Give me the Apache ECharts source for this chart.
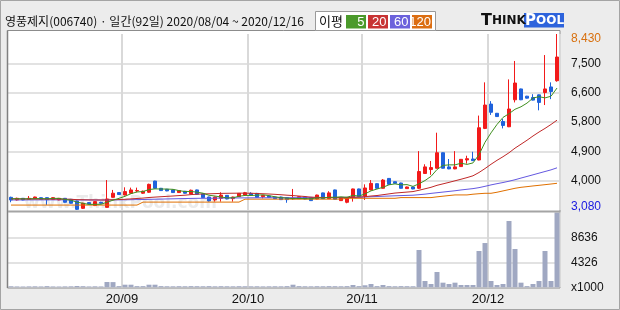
<!DOCTYPE html>
<html><head><meta charset="utf-8">
<script src="https://cdn.jsdelivr.net/npm/echarts@6/dist/echarts.min.js"></script>
<style>html,body{margin:0;padding:0;background:#ececec;}#c{width:620px;height:310px;}</style>
</head><body><div id="c"></div>
<script>
const dates = ['2020/08/04','2020/08/05','2020/08/06','2020/08/07','2020/08/10','2020/08/11','2020/08/12','2020/08/13','2020/08/14','2020/08/18','2020/08/19','2020/08/20','2020/08/21','2020/08/24','2020/08/25','2020/08/26','2020/08/27','2020/08/28','2020/08/31',
'2020/09/01','2020/09/02','2020/09/03','2020/09/04','2020/09/07','2020/09/08','2020/09/09','2020/09/10','2020/09/11','2020/09/14','2020/09/15','2020/09/16','2020/09/17','2020/09/18','2020/09/21','2020/09/22','2020/09/23','2020/09/24','2020/09/25','2020/09/28','2020/09/29',
'2020/10/05','2020/10/06','2020/10/07','2020/10/08','2020/10/12','2020/10/13','2020/10/14','2020/10/15','2020/10/16','2020/10/19','2020/10/20','2020/10/21','2020/10/22','2020/10/23','2020/10/26','2020/10/27','2020/10/28','2020/10/29','2020/10/30',
'2020/11/02','2020/11/03','2020/11/04','2020/11/05','2020/11/06','2020/11/09','2020/11/10','2020/11/11','2020/11/12','2020/11/13','2020/11/16','2020/11/17','2020/11/18','2020/11/19','2020/11/20','2020/11/23','2020/11/24','2020/11/25','2020/11/26','2020/11/27','2020/11/30',
'2020/12/01','2020/12/02','2020/12/03','2020/12/04','2020/12/07','2020/12/08','2020/12/09','2020/12/10','2020/12/11','2020/12/14','2020/12/15','2020/12/16'];

const opens = [3465,3385,3435,3405,3425,3455,3455,3405,3385,3435,
3405,3355,3130,3305,3215,3315,3160,3465,3610,3535,
3590,3660,3590,3620,3960,3740,3710,3690,3610,3650,
3570,3690,3570,3475,3385,3435,3525,3425,3485,3535,
3585,3585,3485,3505,3475,3475,3455,3425,3425,3475,
3465,3415,3600,3425,3690,3365,3315,3465,3720,3505,
3690,3880,3740,4040,3940,3900,3730,3780,3740,4190,
4310,4350,4820,4390,4330,4400,4600,4630,4600,5560,
6300,6020,5770,5610,6430,6760,6540,6500,6580,6650,
6820,7010];
const closes = [3385,3435,3385,3435,3475,3405,3395,3455,3435,3315,
3285,3100,3285,3265,3335,3285,3415,3590,3550,3640,
3690,3670,3650,3860,3740,3670,3660,3610,3670,3590,
3680,3560,3455,3355,3475,3535,3415,3475,3585,3605,
3525,3465,3525,3465,3425,3395,3395,3445,3485,3415,
3365,3535,3425,3600,3405,3435,3465,3720,3485,3750,
3890,3740,3990,3860,3890,3740,3780,3720,4250,4390,
4370,4820,4350,4330,4390,4620,4640,4580,5580,6270,
6050,5920,5650,6150,6940,6430,6480,6420,6350,6760,
6680,7730];
const lows = [3315,3365,3375,3395,3415,3395,3235,3395,3375,3305,
3275,3080,3110,3255,3200,3275,3150,3455,3540,3525,
3580,3620,3570,3600,3730,3660,3650,3600,3600,3580,
3560,3550,3445,3335,3335,3335,3405,3335,3475,3525,
3515,3455,3435,3455,3415,3385,3300,3395,3415,3405,
3355,3405,3415,3415,3395,3355,3285,3335,3475,3385,
3680,3730,3730,3850,3880,3730,3720,3710,3720,4180,
4150,4340,4340,4320,4320,4390,4490,4570,4590,5540,
5970,5910,5560,5600,6350,6420,6470,6410,6110,6270,
6450,6980];
const highs = [3485,3455,3445,3505,3485,3465,3465,3470,3445,3445,
3415,3365,3300,3320,3345,3330,3990,3690,3620,3770,
3760,3760,3670,3880,3970,3750,3720,3700,3680,3660,
3700,3700,3580,3485,3485,3620,3535,3485,3595,3630,
3620,3600,3535,3515,3485,3485,3465,3720,3495,3485,
3475,3545,3610,3650,3700,3445,3475,3730,3730,3860,
3990,3890,4020,4050,3950,3910,3790,3790,4870,4470,
4570,5430,4830,4630,4870,4630,4730,4850,5950,6960,
6390,6030,5850,7050,7610,6770,6550,6600,6590,7790,
6960,8430];
const volumes = [180,150,140,160,170,150,200,150,140,160,
170,230,190,150,170,150,920,900,200,450,
450,200,200,450,450,200,180,170,190,180,
200,190,180,200,170,190,180,170,190,180,
170,180,160,170,180,170,200,450,200,180,
170,190,180,200,190,180,200,400,200,350,
570,200,400,200,180,200,190,180,6450,1090,
570,2650,800,570,800,400,400,400,6280,7660,
1090,400,570,11470,6630,800,200,570,1090,6280,
1090,12950];
const ma5 = [3420,3422,3418,3420,3423,3427,3419,3433,3433,3401,
3377,3318,3284,3250,3254,3254,3317,3378,3435,3496,
3577,3628,3640,3702,3722,3718,3716,3708,3670,3640,
3642,3622,3591,3528,3505,3476,3447,3451,3497,3523,
3521,3531,3541,3517,3481,3455,3441,3425,3429,3427,
3421,3449,3445,3468,3466,3480,3466,3525,3502,3571,
3662,3717,3771,3846,3874,3844,3852,3798,3876,3976,
4102,4310,4436,4452,4452,4502,4466,4512,4762,5138,
5424,5680,5894,6008,6142,6218,6330,6484,6524,6488,
6538,6788];
const ma20 = [3420,3418,3416,3415,3415,3414,3413,3412,3412,3410,
3405,3395,3392,3388,3386,3384,3386,3392,3398,3405,
3418,3430,3442,3460,3472,3484,3495,3506,3518,3530,
3548,3560,3568,3572,3578,3585,3588,3590,3592,3592,
3589,3582,3574,3566,3556,3544,3530,3518,3504,3490,
3470,3465,3460,3458,3455,3452,3452,3466,3470,3485,
3505,3520,3545,3570,3595,3610,3625,3640,3680,3725,
3770,3830,3875,3920,3968,4015,4065,4120,4220,4340,
4470,4590,4700,4820,4960,5080,5200,5330,5450,5560,
5680,5810];
const ma60 = [3385,3385,3386,3386,3387,3387,3388,3388,3389,3389,
3388,3386,3385,3384,3384,3383,3384,3386,3388,3390,
3393,3396,3399,3404,3408,3412,3416,3420,3424,3428,
3432,3435,3437,3438,3440,3442,3443,3445,3447,3449,
3450,3451,3452,3452,3453,3453,3453,3454,3455,3455,
3455,3457,3458,3460,3461,3462,3463,3468,3470,3476,
3484,3490,3498,3505,3512,3518,3524,3530,3545,3562,
3585,3605,3625,3645,3665,3689,3710,3730,3760,3800,
3843,3880,3915,3955,4000,4051,4100,4150,4200,4250,
4300,4362];
const ma120 = [3230,3230,3230,3230,3230,3230,3230,3230,3230,3230,
3230,3230,3230,3230,3230,3230,3230,3230,3230,3230,
3230,3230,3320,3320,3320,3320,3320,3320,3320,3320,
3320,3320,3320,3320,3320,3320,3320,3320,3320,3410,
3410,3410,3410,3410,3410,3410,3410,3410,3410,3410,
3410,3410,3410,3410,3410,3410,3436,3436,3436,3436,
3436,3436,3436,3436,3436,3457,3457,3457,3457,3457,
3457,3480,3500,3520,3538,3538,3538,3560,3575,3588,
3588,3620,3660,3700,3740,3770,3790,3811,3830,3850,
3870,3892];
const priceTicks = ['3,080','4,000','4,900','5,800','6,600','7,500','8,430'];
const volTicks = ['x1000','4326','8636',''];
const priceMin = 3080, priceMax = 8430, volMax = 12978;

const isMonthStart = (i) => i > 0 && dates[i].slice(5,7) !== dates[i-1].slice(5,7);
const gridCol = '#d9d9d9';
const axisFont = 'Liberation Sans';

const chart = echarts.init(document.getElementById('c'), null, {renderer:'canvas'});
const option = {
  animation: false,
  backgroundColor: '#ececec',
  grid: [
    {left: 8, top: 34, width: 552, height: 176},
    {left: 8, top: 212.3, width: 552, height: 75}
  ],
  xAxis: [
    {type:'category', gridIndex:0, data:dates, boundaryGap:true,
     axisLine:{show:false}, axisTick:{show:false}, axisLabel:{show:false},
     splitLine:{show:true, interval:(i)=>isMonthStart(i), lineStyle:{color:gridCol, width:2}}},
    {type:'category', gridIndex:1, data:dates, boundaryGap:true,
     axisLine:{show:false}, axisTick:{show:false},
     axisLabel:{show:true, interval:(i)=>isMonthStart(i), formatter:(v)=>v.slice(2,4)+'/'+v.slice(5,7),
       color:'#111', fontFamily:axisFont, fontSize:13, margin:6, padding:[0,6,0,0]},
     splitLine:{show:true, interval:(i)=>isMonthStart(i), lineStyle:{color:gridCol, width:2}}}
  ],
  yAxis: [
    {type:'value', gridIndex:0, min:priceMin, max:priceMax, show:false},
    {type:'value', gridIndex:0, min:0, max:6, interval:1, position:'right',
     axisLine:{show:false}, axisTick:{show:false},
     splitLine:{show:true, lineStyle:{color:['rgba(0,0,0,0)',gridCol,gridCol,gridCol,gridCol,gridCol,'rgba(0,0,0,0)'], width:1.5}},
     axisLabel:{margin:11, fontFamily:axisFont, fontSize:12, color:'#111',
       formatter:(v)=>{const i=Math.round(v); if(i===6) return '{top|'+priceTicks[i]+'}'; if(i===0) return '{bot|'+priceTicks[i]+'}'; return priceTicks[i];},
       rich:{top:{color:'#d8700e', fontFamily:axisFont, fontSize:12, padding:[9,0,0,0]},
             bot:{color:'#1818e0', fontFamily:axisFont, fontSize:12, padding:[0,0,7,0]}}}},
    {type:'value', gridIndex:1, min:0, max:volMax, show:false},
    {type:'value', gridIndex:1, min:0, max:3, interval:1, position:'right',
     axisLine:{show:false}, axisTick:{show:false},
     splitLine:{show:true, lineStyle:{color:['rgba(0,0,0,0)',gridCol,gridCol,'rgba(0,0,0,0)'], width:1.5}},
     axisLabel:{margin:11, fontFamily:axisFont, fontSize:12, color:'#111', formatter:(v)=>volTicks[Math.round(v)]}}
  ],
  series: [
    {type:'candlestick', xAxisIndex:0, yAxisIndex:0, barWidth:4, z:2,
     data: opens.map((o,i)=>[o, closes[i], lows[i], highs[i]]),
     itemStyle:{color:'#f21a1a', color0:'#1f62dc', borderColor:'#f21a1a', borderColor0:'#1f62dc', borderWidth:1}},
    {type:'line', xAxisIndex:0, yAxisIndex:0, data:ma120, symbol:'none', z:3, lineStyle:{color:'#e07000', width:1}},
    {type:'line', xAxisIndex:0, yAxisIndex:0, data:ma60, symbol:'none', z:3, lineStyle:{color:'#6458e0', width:1}},
    {type:'line', xAxisIndex:0, yAxisIndex:0, data:ma20, symbol:'none', z:3, lineStyle:{color:'#c02828', width:1}},
    {type:'line', xAxisIndex:0, yAxisIndex:0, data:ma5, symbol:'none', z:3, lineStyle:{color:'#3f8f1f', width:1}},
    {type:'bar', xAxisIndex:1, yAxisIndex:2, data:volumes, barWidth:5, itemStyle:{color:'#a0a8c2'}}
  ],
  graphic: [
    {type:'rect', z:-10, shape:{x:7.5,y:30.5,width:552.5,height:257.5}, style:{fill:'#ffffff', stroke:'#8c8c8c', lineWidth:1}},
    {type:'line', z:50, shape:{x1:7.5,y1:30.5,x2:7.5,y2:288}, style:{stroke:'#808080', lineWidth:1.5}},
    {type:'text', z:-5, x:24, y:204, style:{text:'www.ThinkPool.com', font:'bold 17px "DejaVu Sans"', fill:'rgba(130,130,130,0.16)', verticalAlign:'middle'}},
    {type:'line', z:50, shape:{x1:8,y1:211.5,x2:560,y2:211.5}, style:{stroke:'#a4a4a4', lineWidth:2}},
    {type:'rect', z:50, shape:{x:0.5,y:0.5,width:619,height:309}, style:{fill:'none', stroke:'#a4a4a4', lineWidth:1}},
    {type:'text', z:50, x:5, y:21, style:{text:'영풍제지(006740) · 일간(92일) 2020/08/04 ~ 2020/12/16', font:'12px "Noto Sans CJK KR"', fill:'#111', verticalAlign:'middle'}},
    {type:'rect', z:50, shape:{x:315.5,y:11.5,width:120,height:19}, style:{fill:'#ffffff', stroke:'#9a9a9a', lineWidth:1}},
    {type:'text', z:51, x:319, y:21.5, style:{text:'이평', font:'13px "Noto Sans CJK KR"', fill:'#111', verticalAlign:'middle'}},
    {type:'rect', z:51, shape:{x:346,y:15,width:20,height:13.5}, style:{fill:'#4b9a2b'}},
    {type:'rect', z:51, shape:{x:368,y:15,width:20,height:13.5}, style:{fill:'#c83434'}},
    {type:'rect', z:51, shape:{x:390,y:15,width:20,height:13.5}, style:{fill:'#6c62dc'}},
    {type:'rect', z:51, shape:{x:412,y:15,width:20,height:13.5}, style:{fill:'#dc6e12'}},
    {type:'text', z:52, x:364.5, y:22, style:{text:'5', font:'13px "Liberation Sans"', fill:'#fff', align:'right', verticalAlign:'middle'}},
    {type:'text', z:52, x:386.5, y:22, style:{text:'20', font:'13px "Liberation Sans"', fill:'#fff', align:'right', verticalAlign:'middle'}},
    {type:'text', z:52, x:408.5, y:22, style:{text:'60', font:'13px "Liberation Sans"', fill:'#fff', align:'right', verticalAlign:'middle'}},
    {type:'text', z:52, x:431, y:22, style:{text:'120', font:'13px "Liberation Sans"', fill:'#fff', align:'right', verticalAlign:'middle'}},
    {type:'rect', z:51, shape:{x:524,y:13,width:40,height:14.5}, style:{fill:'#2d63dc'}},
    {type:'text', z:52, x:481, y:21, style:{text:'{a|T}{b|HINK}', verticalAlign:'middle', rich:{a:{font:'bold 16px "DejaVu Sans"', fill:'#111', color:'#111'}, b:{font:'bold 12px "DejaVu Sans"', fill:'#111', color:'#111'}}}},
    {type:'text', z:52, x:525, y:21, style:{text:'{a|P}{b|OOL}', verticalAlign:'middle', rich:{a:{font:'bold 15px "DejaVu Sans"', fill:'#fff', color:'#fff'}, b:{font:'bold 12px "DejaVu Sans"', fill:'#fff', color:'#fff'}}}}
  ]
};
chart.setOption(option);
</script></body></html>
